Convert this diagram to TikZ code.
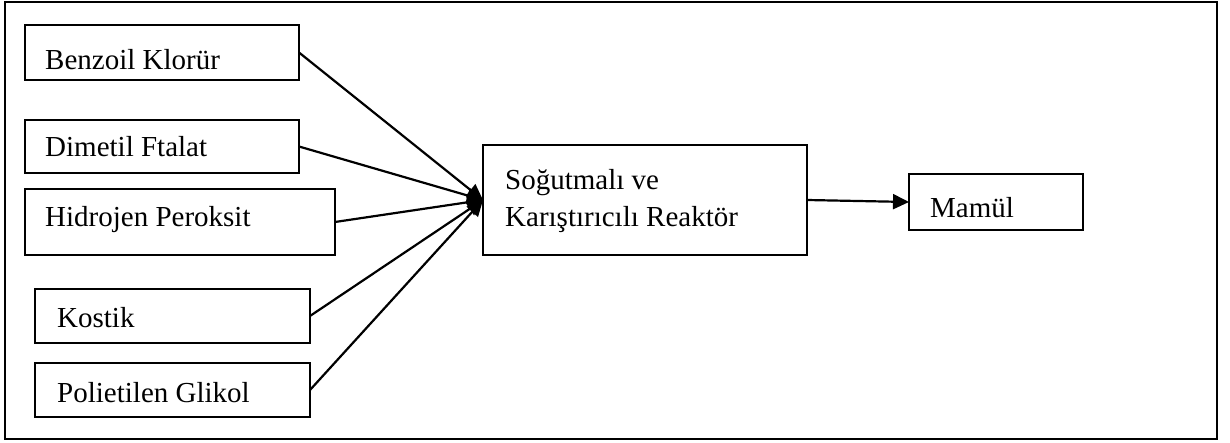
\documentclass[tikz,border=0pt]{standalone}
\usepackage{fontspec}
\setmainfont{Liberation Serif}
\usetikzlibrary{arrows.meta}
\begin{document}
\begin{tikzpicture}[x=1pt,y=-1pt,
  stepbox/.style={draw, line width=1.4pt, rectangle, anchor=north west, inner sep=0pt, outer sep=0pt},
  lbl/.style={anchor=base west, inner sep=0pt, font=\fontsize{29}{35}\selectfont},
  flow/.style={line width=2.2pt, -{Triangle[length=16pt,width=15pt]}}]
  \useasboundingbox (0,0) rectangle (1230,443);
  % outer frame
  \draw[line width=1.6pt] (5,2) rectangle (1217,439);

  % input boxes
  \node[stepbox, minimum width=274pt, minimum height=55pt] (bk) at (25,25) {};
  \node[stepbox, minimum width=274pt, minimum height=53pt] (df) at (25,120) {};
  \node[stepbox, minimum width=310pt, minimum height=66pt] (hp) at (25,189) {};
  \node[stepbox, minimum width=275pt, minimum height=54pt] (ko) at (35,289) {};
  \node[stepbox, minimum width=275pt, minimum height=54pt] (pg) at (35,363) {};

  % reactor and product
  \node[stepbox, minimum width=324pt, minimum height=110pt] (re) at (483,145) {};
  \node[stepbox, minimum width=174pt, minimum height=56pt] (ma) at (909,174) {};

  % labels
  \node[lbl] (tbk) at (45,70) {Benzoil Klorür};
  \node[lbl] (tdf) at (45,157) {Dimetil Ftalat};
  \node[lbl] (thp) at (45,227) {Hidrojen Peroksit};
  \node[lbl] (tko) at (57,327) {Kostik};
  \node[lbl] (tpg) at (57,402) {Polietilen Glikol};
  \node[lbl] (tre1) at (505,190) {Soğutmalı ve};
  \node[lbl] (tre2) at (505,227) {Karıştırıcılı Reaktör};
  \node[lbl] (tma) at (930,218) {Mamül};

  % connectors
  \draw[flow] (bk.east) -- (re.west);
  \draw[flow] (df.east) -- (re.west);
  \draw[flow] (hp.east) -- (re.west);
  \draw[flow] (ko.east) -- (re.west);
  \draw[flow] (pg.east) -- (re.west);
  \draw[flow] (re.east) -- (ma.west);
\end{tikzpicture}
\end{document}
